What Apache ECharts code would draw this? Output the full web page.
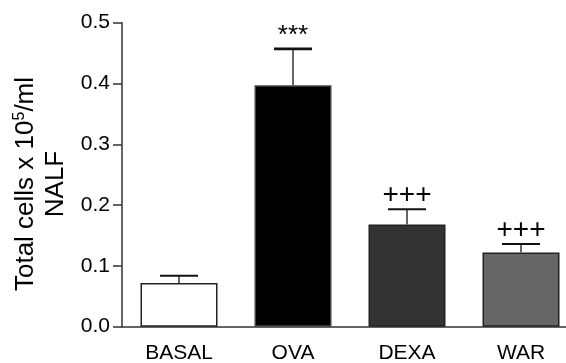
<!DOCTYPE html>
<html>
<head>
<meta charset="utf-8">
<script src="https://cdn.jsdelivr.net/npm/echarts@6/dist/echarts.min.js"></script>
<style>html,body{margin:0;padding:0;background:#fff;}#c{width:566px;height:363px;}</style>
</head>
<body>
<div id="c"></div>
<script>
var categories = ['BASAL', 'OVA', 'DEXA', 'WAR'];
var values = [0.072, 0.397, 0.168, 0.122];
var errors = [0.012, 0.060, 0.025, 0.014];
var marks = ['', '***', '+++', '+++'];
var barColors = ['#ffffff', '#000000', '#333333', '#666666'];
var yTicks = [0.0, 0.1, 0.2, 0.3, 0.4, 0.5];

var chart = echarts.init(document.getElementById('c'), null, {renderer: 'canvas'});
var font = '"Liberation Sans", Arial, Helvetica, sans-serif';
chart.setOption({
  animation: false,
  backgroundColor: '#ffffff',
  grid: {left: 122, top: 22.7, width: 456, height: 304, containLabel: false, outerBoundsMode: 'none'},
  graphic: [{
    type: 'text',
    x: 41, y: 184,
    rotation: Math.PI / 2,
    style: {
      text: '{a|Total cells x 10}{s|5}{a|/ml}\n{a|NALF}',
      align: 'center', verticalAlign: 'middle',
      fill: '#000',
      font: '26px ' + font,
      rich: {
        a: {fontSize: 26, fontFamily: font, fill: '#000', lineHeight: 30},
        s: {fontSize: 16, fontFamily: font, fill: '#000', lineHeight: 30, padding: [0, 0, 12, 0]}
      }
    }
  }],
  xAxis: {
    type: 'category',
    data: categories,
    axisLine: {lineStyle: {color: '#333', width: 1.5}},
    axisTick: {alignWithLabel: true, length: 12, lineStyle: {color: '#333', width: 1.5}},
    axisLabel: {color: '#000', fontSize: 21, fontFamily: font, margin: 16},
    splitLine: {show: false}
  },
  yAxis: {
    type: 'value',
    min: 0, max: 0.5, interval: 0.1,
    axisLine: {show: true, lineStyle: {color: '#333', width: 1.5}},
    axisTick: {show: true, length: 9, lineStyle: {color: '#333', width: 1.5}},
    axisLabel: {color: '#000', fontSize: 21, fontFamily: font, margin: 12,
      formatter: function (v) { return v.toFixed(1); }},
    splitLine: {show: false}
  },
  series: [
    {
      type: 'bar',
      barWidth: 77,
      data: values.map(function (v, i) {
        return {value: v, itemStyle: {color: barColors[i], borderColor: i === 1 ? '#444' : '#222', borderWidth: 1.5}};
      }),
      z: 2
    },
    {
      type: 'custom',
      z: 3,
      data: values.map(function (v, i) { return [i, v, errors[i]]; }),
      renderItem: function (params, api) {
        var i = api.value(0), v = api.value(1), e = api.value(2);
        var p0 = api.coord([i, v]);
        var p1 = api.coord([i, v + e]);
        var hw = 19;
        var children = [
          {type: 'line', shape: {x1: p0[0], y1: p0[1], x2: p1[0], y2: p1[1]}, style: {stroke: '#333', lineWidth: 1.5}},
          {type: 'line', shape: {x1: p1[0] - hw, y1: p1[1], x2: p1[0] + hw, y2: p1[1]}, style: {stroke: '#111', lineWidth: params.dataIndex === 1 ? 2.6 : 2}}
        ];
        var m = marks[params.dataIndex];
        if (m) {
          var star = m === '***';
          children.push({type: 'text', style: {text: m, x: p1[0], y: p1[1] - (star ? 13 : 14), align: 'center', verticalAlign: 'middle',
            fill: '#000', font: (star ? '26px ' : '28px ') + font}});
        }
        return {type: 'group', children: children};
      }
    }
  ]
});
</script>
</body>
</html>
